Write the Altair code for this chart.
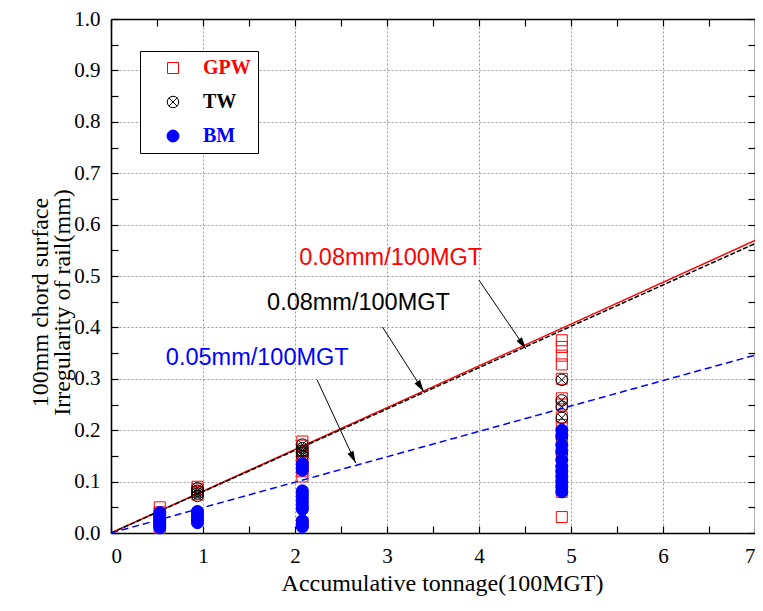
import altair as alt
import pandas as pd

# ---------------- data ----------------
tonnage = [0.53, 0.94, 2.08, 4.90]
gpw = [
    [0.050, 0.040, 0.030, 0.020, 0.010],
    [0.090, 0.085, 0.080, 0.075],
    [0.178, 0.170, 0.160, 0.150, 0.140, 0.130, 0.120, 0.110, 0.020],
    [0.375, 0.362, 0.345, 0.328, 0.300, 0.262, 0.250, 0.225, 0.210,
     0.180, 0.150, 0.120, 0.095, 0.080, 0.031],
]
tw = [
    [0.030, 0.020],
    [0.087, 0.082, 0.077, 0.072],
    [0.172, 0.165, 0.160, 0.155, 0.150],
    [0.298, 0.258, 0.246, 0.224, 0.185, 0.155],
]
bm = [
    [0.040, 0.035, 0.030, 0.025, 0.020, 0.015, 0.010],
    [0.042, 0.036, 0.030, 0.025, 0.020],
    [0.135, 0.128, 0.122, 0.082, 0.075, 0.068, 0.060, 0.052, 0.046,
     0.024, 0.018, 0.012],
    [0.200, 0.190, 0.171, 0.160, 0.142, 0.130, 0.120, 0.110, 0.100,
     0.090, 0.080],
]
series_names = ["GPW", "TW", "BM"]

fit_x = [0, 7]
gpw_fit = [0, 0.569]
tw_fit = [0, 0.563]
bm_fit = [0, 0.346]

ann_text = ["0.08mm/100MGT", "0.08mm/100MGT", "0.05mm/100MGT"]
ann_color = ["#ff0000", "#000000", "#0000ff"]
ann_x = [3.04, 2.69, 1.59]
ann_y = [0.535, 0.447, 0.340]
arrow_x0 = [4.00, 2.95, 2.24]
arrow_y0 = [0.492, 0.401, 0.298]
arrow_x1 = [4.51, 3.40, 2.66]
arrow_y1 = [0.358, 0.275, 0.136]
arrow_angle = [146, 147, 154]

# ---------------- tables ----------------
rows = []
for name, groups in zip(series_names, [gpw, tw, bm]):
    for t, vals in zip(tonnage, groups):
        for v in vals:
            rows.append({"t": t, "v": v, "series": name})
pts = pd.DataFrame(rows)

fit_df = pd.DataFrame({"x": fit_x * 3, "y": gpw_fit + tw_fit + bm_fit,
                       "fit": ["GPW"] * 2 + ["TW"] * 2 + ["BM"] * 2})
ann_df = pd.DataFrame({"text": ann_text, "color": ann_color, "x": ann_x, "y": ann_y})
arr_df = pd.DataFrame({"x0": arrow_x0, "y0": arrow_y0, "x1": arrow_x1,
                       "y1": arrow_y1, "angle": arrow_angle})

tw_path = ("M-1,0A1,1,0,1,0,1,0A1,1,0,1,0,-1,0Z"
           "M-0.7071,-0.7071L0.7071,0.7071M-0.7071,0.7071L0.7071,-0.7071")
head_path = "M0,0L0.55,2L-0.55,2Z"

xs = alt.Scale(domain=[0, 7], nice=False, zero=False)
ys = alt.Scale(domain=[0, 1], nice=False)

x_ticks = [i * 0.5 for i in range(15)]
y_ticks = [round(i * 0.05, 2) for i in range(21)]
y_major = "abs(datum.value*10 - round(datum.value*10)) < 0.001"

common_axis = dict(
    domainColor="black", domainWidth=1.6, tickColor="black", tickWidth=1.2,
    tickSize={"expr": "-7"},
)

x_bottom = alt.Axis(
    orient="bottom", values=x_ticks, title="Accumulative tonnage(100MGT)",
    labelExpr="datum.value % 1 == 0 ? format(datum.value, 'd') : ''",
    grid=True, gridColor="#999999", gridDash=[2, 2], gridWidth=1,
    gridOpacity={"condition": {"test": "datum.value % 1 != 0", "value": 0}, "value": 1},
    labelPadding=19, titleX=331, titleY=38, **common_axis,
)
y_left = alt.Axis(
    orient="left", values=y_ticks,
    title=["100mm chord surface", "Irregularity of rail(mm)"],
    labelExpr=f"{y_major} ? format(datum.value, '.1f') : ''",
    grid=True, gridColor="#999999", gridDash=[2, 2], gridWidth=1,
    gridOpacity={"condition": {"test": f"!({y_major})", "value": 0}, "value": 1},
    labelPadding=18, titleX=-59, titleY=283, titleLineHeight=22, **common_axis,
)
x_top = alt.Axis(orient="top", values=x_ticks, labels=False, title=None,
                 grid=False, **common_axis)
y_right = alt.Axis(orient="right", values=y_ticks, labels=False, title=None,
                   grid=False, **common_axis)

legend = alt.Legend(
    orient="none", legendX=29, legendY=32, title=None,
    strokeColor="black", fillColor="white", padding=7,
    symbolOffset=16, labelOffset=20, rowPadding=14,
    labelFont="Liberation Serif", labelFontSize=20, labelFontWeight="bold",
    labelColor={"expr": "datum.label == 'GPW' ? '#ff0000' : datum.label == 'BM' ? '#0000ff' : '#000000'"},
    symbolStrokeWidth=1,
)
dom = series_names

points = alt.Chart(pts).mark_point(filled=False, opacity=1, strokeWidth=1).encode(
    x=alt.X("t:Q", scale=xs, axis=x_bottom),
    y=alt.Y("v:Q", scale=ys, axis=y_left),
    stroke=alt.Stroke("series:N", scale=alt.Scale(domain=dom, range=["#ff0000", "#000000", "#0000ff"]), legend=legend),
    fill=alt.Fill("series:N", scale=alt.Scale(domain=dom, range=["transparent", "transparent", "#0000ff"]), legend=legend),
    shape=alt.Shape("series:N", scale=alt.Scale(domain=dom, range=["square", tw_path, "circle"]), legend=legend),
    size=alt.Size("series:N", scale=alt.Scale(domain=dom, range=[121, 144, 190]), legend=legend),
    order=alt.Order("idx:Q"),
).transform_window(idx="row_number()")

def fit_line(name, color, dash):
    m = alt.Chart(fit_df).transform_filter(alt.datum.fit == name)
    kw = {"color": color, "strokeWidth": 1.5}
    if dash:
        kw["strokeDash"] = dash
    return m.mark_line(**kw).encode(
        x=alt.X("x:Q", scale=xs, axis=None),
        y=alt.Y("y:Q", scale=ys, axis=None),
    )

red_line = alt.Chart(fit_df).transform_filter(alt.datum.fit == "GPW").mark_line(
    color="#ff0000", strokeWidth=1.5).encode(
    x=alt.X("x:Q", scale=xs, axis=x_top),
    y=alt.Y("y:Q", scale=ys, axis=y_right),
)
black_line = fit_line("TW", "#000000", [5, 2])
blue_line = fit_line("BM", "#0000ff", [7, 4])

shafts = alt.Chart(arr_df).mark_rule(color="black", strokeWidth=1).encode(
    x=alt.X("x0:Q", scale=xs, axis=None), y=alt.Y("y0:Q", scale=ys, axis=None),
    x2="x1:Q", y2="y1:Q",
)
heads = alt.Chart(arr_df).mark_point(shape=head_path, filled=True, color="black",
                                     opacity=1, size=144).encode(
    x=alt.X("x1:Q", scale=xs, axis=None), y=alt.Y("y1:Q", scale=ys, axis=None),
    angle=alt.Angle("angle:Q", scale=None),
)
labels = alt.Chart(ann_df).mark_text(font="Liberation Sans", fontSize=23.5,
                                     align="center", baseline="middle").encode(
    x=alt.X("x:Q", scale=xs, axis=None), y=alt.Y("y:Q", scale=ys, axis=None),
    text="text:N", color=alt.Color("color:N", scale=None),
)

chart = alt.layer(
    red_line, black_line, blue_line, points, shafts, heads, labels
).properties(
    width=644, height=514,
    autosize=alt.AutoSizeParams(type="none"),
    padding={"left": 103, "top": 11, "right": 0, "bottom": 65},
).configure_view(stroke=None).configure_axis(
    labelFont="Liberation Serif", labelFontSize=21, labelColor="black",
    titleFont="Liberation Serif", titleFontSize=24, titleFontWeight="normal",
    titleColor="black",
)

chart.save("out.html", embed_options={"renderer": "svg", "actions": False})
